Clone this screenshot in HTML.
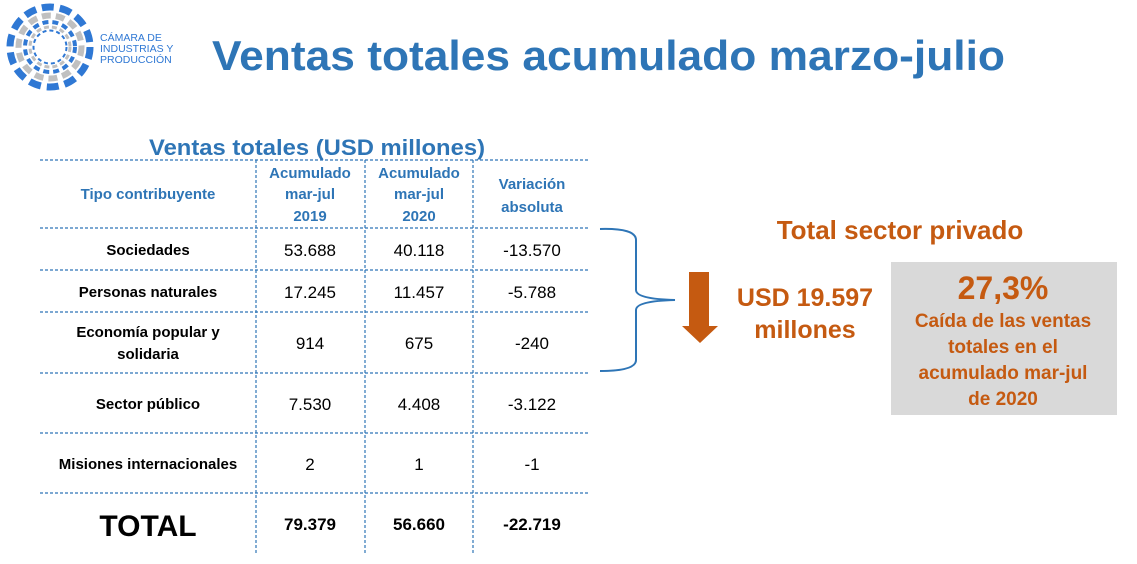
<!DOCTYPE html>
<html><head><meta charset="utf-8"><style>
html,body{margin:0;padding:0;background:#fff;}
svg{display:block;font-family:"Liberation Sans",sans-serif;}
</style></head><body>
<svg width="1137" height="564" viewBox="0 0 1137 564">
<g>
<circle cx="50" cy="47" r="40" fill="none" stroke="#2f78d4" stroke-width="7" stroke-dasharray="12 6"/>
<circle cx="50" cy="47" r="31.5" fill="none" stroke="#c0c0c0" stroke-width="6" stroke-dasharray="9 5"/>
<circle cx="50" cy="47" r="25" fill="none" stroke="#2f78d4" stroke-width="4" stroke-dasharray="6 4"/>
<circle cx="50" cy="47" r="20" fill="none" stroke="#c0c0c0" stroke-width="3" stroke-dasharray="5 3"/>
<circle cx="50" cy="47" r="16.5" fill="none" stroke="#2f78d4" stroke-width="2" stroke-dasharray="4 3"/>
<text x="100" y="41" font-size="10.5" fill="#2f78d4">CÁMARA DE</text>
<text x="100" y="52" font-size="10.5" fill="#2f78d4">INDUSTRIAS Y</text>
<text x="100" y="63" font-size="10.5" fill="#2f78d4">PRODUCCIÓN</text>
</g>
<text x="212" y="70" font-size="42" font-weight="bold" fill="#2e75b6" textLength="793" lengthAdjust="spacingAndGlyphs">Ventas totales acumulado marzo-julio</text>

<text x="317" y="155" text-anchor="middle" font-size="22" font-weight="bold" fill="#2e75b6" textLength="336" lengthAdjust="spacingAndGlyphs">Ventas totales (USD millones)</text>

<g stroke="#2e75b6" stroke-width="1.2" stroke-dasharray="3 2" fill="none">
<line x1="40" y1="160" x2="590" y2="160"/>
<line x1="40" y1="228" x2="590" y2="228"/>
<line x1="40" y1="270" x2="590" y2="270"/>
<line x1="40" y1="312" x2="590" y2="312"/>
<line x1="40" y1="373" x2="590" y2="373"/>
<line x1="40" y1="433" x2="590" y2="433"/>
<line x1="40" y1="493" x2="590" y2="493"/>
<line x1="256" y1="160" x2="256" y2="553"/>
<line x1="365" y1="160" x2="365" y2="553"/>
<line x1="473" y1="160" x2="473" y2="553"/>
</g>

<g font-size="15" font-weight="bold" fill="#2e75b6" text-anchor="middle">
<text x="148" y="199">Tipo contribuyente</text>
<text x="310" y="178">Acumulado</text><text x="310" y="199">mar-jul</text><text x="310" y="221">2019</text>
<text x="419" y="178">Acumulado</text><text x="419" y="199">mar-jul</text><text x="419" y="221">2020</text>
<text x="532" y="189">Variación</text><text x="532" y="212">absoluta</text>
</g>

<g text-anchor="middle" fill="#000">
<g font-size="15" font-weight="bold">
<text x="148" y="255">Sociedades</text>
<text x="148" y="297">Personas naturales</text>
<text x="148" y="337">Economía popular y</text>
<text x="148" y="359">solidaria</text>
<text x="148" y="409">Sector público</text>
<text x="148" y="469">Misiones internacionales</text>
</g>
<g font-size="17">
<text x="310" y="256">53.688</text><text x="419" y="256">40.118</text><text x="532" y="256">-13.570</text>
<text x="310" y="298">17.245</text><text x="419" y="298">11.457</text><text x="532" y="298">-5.788</text>
<text x="310" y="349">914</text><text x="419" y="349">675</text><text x="532" y="349">-240</text>
<text x="310" y="410">7.530</text><text x="419" y="410">4.408</text><text x="532" y="410">-3.122</text>
<text x="310" y="470">2</text><text x="419" y="470">1</text><text x="532" y="470">-1</text>
</g>
<text x="148" y="536" font-size="30" font-weight="bold">TOTAL</text>
<g font-size="17" font-weight="bold">
<text x="310" y="530">79.379</text><text x="419" y="530">56.660</text><text x="532" y="530">-22.719</text>
</g>
</g>

<path d="M600,229 Q636,228 636,240 L636,290 Q636,299 675,300 Q636,301 636,310 L636,360 Q636,371 600,371" fill="none" stroke="#2e75b6" stroke-width="2"/>

<text x="900" y="239" text-anchor="middle" font-size="26" font-weight="bold" fill="#c55a11">Total sector privado</text>

<path d="M689,272 H709 V326 H718 L700,343 L682,326 H689 Z" fill="#c55a11"/>
<g font-size="25" font-weight="bold" fill="#c55a11" text-anchor="middle">
<text x="805" y="306">USD 19.597</text>
<text x="805" y="338">millones</text>
</g>

<rect x="891" y="262" width="226" height="153" fill="#d9d9d9"/>
<g fill="#c55a11" font-weight="bold" text-anchor="middle">
<text x="1003" y="299" font-size="32">27,3%</text>
<text x="1003" y="327" font-size="19">Caída de las ventas</text>
<text x="1003" y="353" font-size="19">totales en el</text>
<text x="1003" y="379" font-size="19">acumulado mar-jul</text>
<text x="1003" y="405" font-size="19">de 2020</text>
</g>
</svg>
</body></html>
